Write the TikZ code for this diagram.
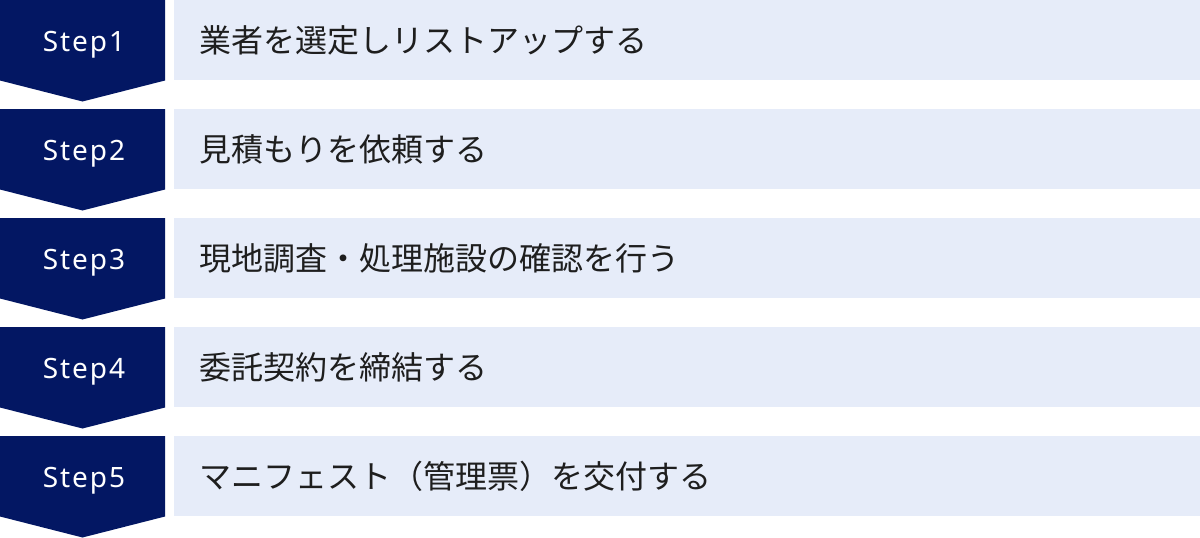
\documentclass[tikz,border=0pt]{standalone}
\usepackage{fontspec}
\newfontfamily\jpfont{Noto Sans CJK JP}
\newfontfamily\stepfont[LetterSpace=7]{Noto Sans}
\definecolor{navy}{HTML}{031763}
\definecolor{lightbg}{HTML}{E6ECF9}
\definecolor{txt}{HTML}{1E1E1E}
\tikzset{
  stepshape/.style={fill=navy, draw=none},
  labelbox/.style={fill=lightbg, draw=none},
  steptext/.style={text=white, font=\stepfont\fontsize{28}{28}\selectfont, inner sep=0pt, anchor=base},
  itemtext/.style={text=txt, font=\jpfont\fontsize{32}{32}\selectfont, inner sep=0pt, anchor=west},
}
\begin{document}
\begin{tikzpicture}[x=1pt,y=-1pt]
\useasboundingbox (0,0) rectangle (1200,538);
\foreach \i/\txt in {1/業者を選定しリストアップする,2/見積もりを依頼する,3/現地調査・処理施設の確認を行う,4/委託契約を締結する,5/マニフェスト（管理票）を交付する}{
  \pgfmathsetmacro{\y}{(\i-1)*109}
  \fill[stepshape] (0,\y) -- (165,\y) -- (165,\y+80.5) -- (82.5,\y+101.5) -- (0,\y+80.5) -- cycle;
  \fill[labelbox] (174,\y) rectangle (1200,\y+80);
  \node[steptext] (s\i) at (84,\y+51.5) {Step\i};
  \node[itemtext] (t\i) at (199,\y+40) {\txt};
}
\end{tikzpicture}
\end{document}
